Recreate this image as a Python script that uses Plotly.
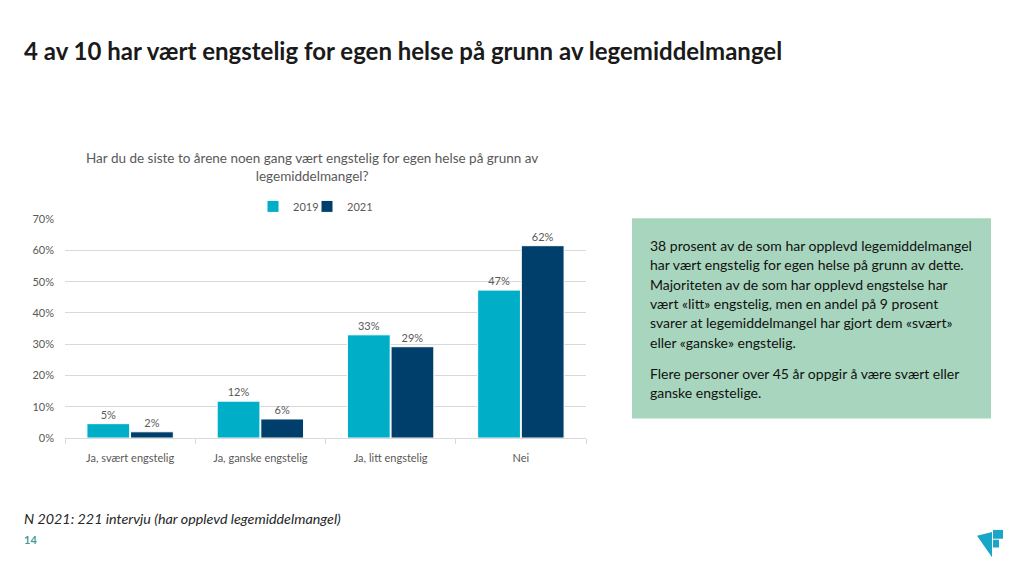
import plotly.graph_objects as go

categories = ["Ja, svært engstelig", "Ja, ganske engstelig", "Ja, litt engstelig", "Nei"]
values_2019 = [4.6, 11.8, 33.0, 47.3]
values_2021 = [2.0, 6.1, 29.2, 61.5]
labels_2019 = ["5%", "12%", "33%", "47%"]
labels_2021 = ["2%", "6%", "29%", "62%"]
y_ticks = [0, 10, 20, 30, 40, 50, 60, 70]
y_tick_labels = ["0%", "10%", "20%", "30%", "40%", "50%", "60%", "70%"]

box_lines_1 = [
    "38 prosent av de som har opplevd legemiddelmangel",
    "har vært engstelig for egen helse på grunn av dette.",
    "Majoriteten av de som har opplevd engstelse har",
    "vært «litt» engstelig, men en andel på 9 prosent",
    "svarer at legemiddelmangel har gjort dem «svært»",
    "eller «ganske» engstelig.",
]
box_lines_2 = [
    "Flere personer over 45 år oppgir å være svært eller",
    "ganske engstelige.",
]

W, H = 1024, 576
def px(x): return x / W
def py(y): return 1 - y / H

C2019 = "#00AEC7"
C2021 = "#003F6B"
GRAY = "#595959"
GRID = "#D9D9D9"

fig = go.Figure()
fig.add_trace(go.Bar(x=categories, y=values_2019, name="2019", legend="legend",
                     marker=dict(color=C2019, line=dict(color="white", width=1)),
                     text=labels_2019, textposition="outside", textfont=dict(color=GRAY, size=11, family="Lato"),
                     cliponaxis=False))
fig.add_trace(go.Bar(x=categories, y=values_2021, name="2021", legend="legend2",
                     marker=dict(color=C2021, line=dict(color="white", width=1)),
                     text=labels_2021, textposition="outside", textfont=dict(color=GRAY, size=11, family="Lato"),
                     cliponaxis=False))

leg_common = dict(orientation="h", yanchor="middle", xanchor="left", font=dict(size=11, color=GRAY, family="Lato"),
                  itemwidth=30, bgcolor="rgba(0,0,0,0)")

fig.update_layout(
    width=W, height=H,
    margin=dict(l=0, r=0, t=0, b=0),
    paper_bgcolor="white", plot_bgcolor="white",
    barmode="group", bargap=0.33, bargroupgap=0.02,
    font=dict(family="Lato", color=GRAY),
    showlegend=True,
    legend=dict(x=px(253), y=py(204), **leg_common),
    legend2=dict(x=px(307), y=py(204), **leg_common),
    xaxis=dict(domain=[px(65), px(586)], showline=True, linecolor=GRID, ticks="outside", tickson="boundaries",
               ticklen=5, tickcolor=GRID, tickfont=dict(size=11, color=GRAY, family="Lato"), showgrid=False,
               ticklabelstandoff=10),
    yaxis=dict(domain=[py(441), py(217)], range=[0, 70], tickmode="array", tickvals=y_ticks, ticktext=y_tick_labels,
               showgrid=True, gridcolor=GRID, zeroline=False, tickfont=dict(size=11, color=GRAY, family="Lato"),
               ticklabelstandoff=10),
)

annotations = [
    dict(x=px(22), y=py(45), xref="paper", yref="paper", xanchor="left", yanchor="middle", showarrow=False,
         text="<b>4 av 10 har vært engstelig for egen helse på grunn av legemiddelmangel</b>",
         font=dict(size=24, color="#1a1a1a", family="Lato")),
    dict(x=px(312), y=py(164), xref="paper", yref="paper", xanchor="center", yanchor="middle", showarrow=False,
         text="Har du de siste to årene noen gang vært engstelig for egen helse på grunn av<br>legemiddelmangel?",
         font=dict(size=13.5, color=GRAY, family="Lato")),
    dict(x=px(22), y=py(523), xref="paper", yref="paper", xanchor="left", yanchor="middle", showarrow=False,
         text="<i>N 2021: 221 intervju (har opplevd legemiddelmangel)</i>",
         font=dict(size=14.3, color="#262626", family="Lato")),
    dict(x=px(22), y=py(545), xref="paper", yref="paper", xanchor="left", yanchor="middle", showarrow=False,
         text="<b>14</b>", font=dict(size=11, color="#4A9A9A", family="Lato")),
]
for i, line in enumerate(box_lines_1):
    annotations.append(dict(x=px(648), y=py(244 + i * 19.8), xref="paper", yref="paper", xanchor="left",
                            yanchor="middle", showarrow=False, text=line,
                            font=dict(size=14, color="#111111", family="Lato")))
for i, line in enumerate(box_lines_2):
    annotations.append(dict(x=px(648), y=py(375 + i * 19.8), xref="paper", yref="paper", xanchor="left",
                            yanchor="middle", showarrow=False, text=line,
                            font=dict(size=14, color="#111111", family="Lato")))
fig.update_layout(annotations=annotations)

shapes = [
    dict(type="rect", xref="paper", yref="paper", x0=px(632), x1=px(991), y0=py(216), y1=py(421),
         fillcolor="#A8D5BD", line=dict(width=0), layer="below"),
    # logo
    dict(type="path", xref="paper", yref="paper",
         path=f"M {px(977)} {py(541)} L {px(992)} {py(537)} L {px(992)} {py(563)} Z",
         fillcolor="#19A6C8", line=dict(width=0)),
    dict(type="rect", xref="paper", yref="paper", x0=px(993), x1=px(1003), y0=py(544), y1=py(535),
         fillcolor="#19A6C8", line=dict(width=0)),
    dict(type="rect", xref="paper", yref="paper", x0=px(993), x1=px(999), y0=py(553), y1=py(545),
         fillcolor="#19A6C8", line=dict(width=0)),
]
fig.update_layout(shapes=shapes)

fig.write_html("out.html", config={"displayModeBar": False},
               post_script="document.body.style.margin='0';document.body.style.overflow='hidden';")
